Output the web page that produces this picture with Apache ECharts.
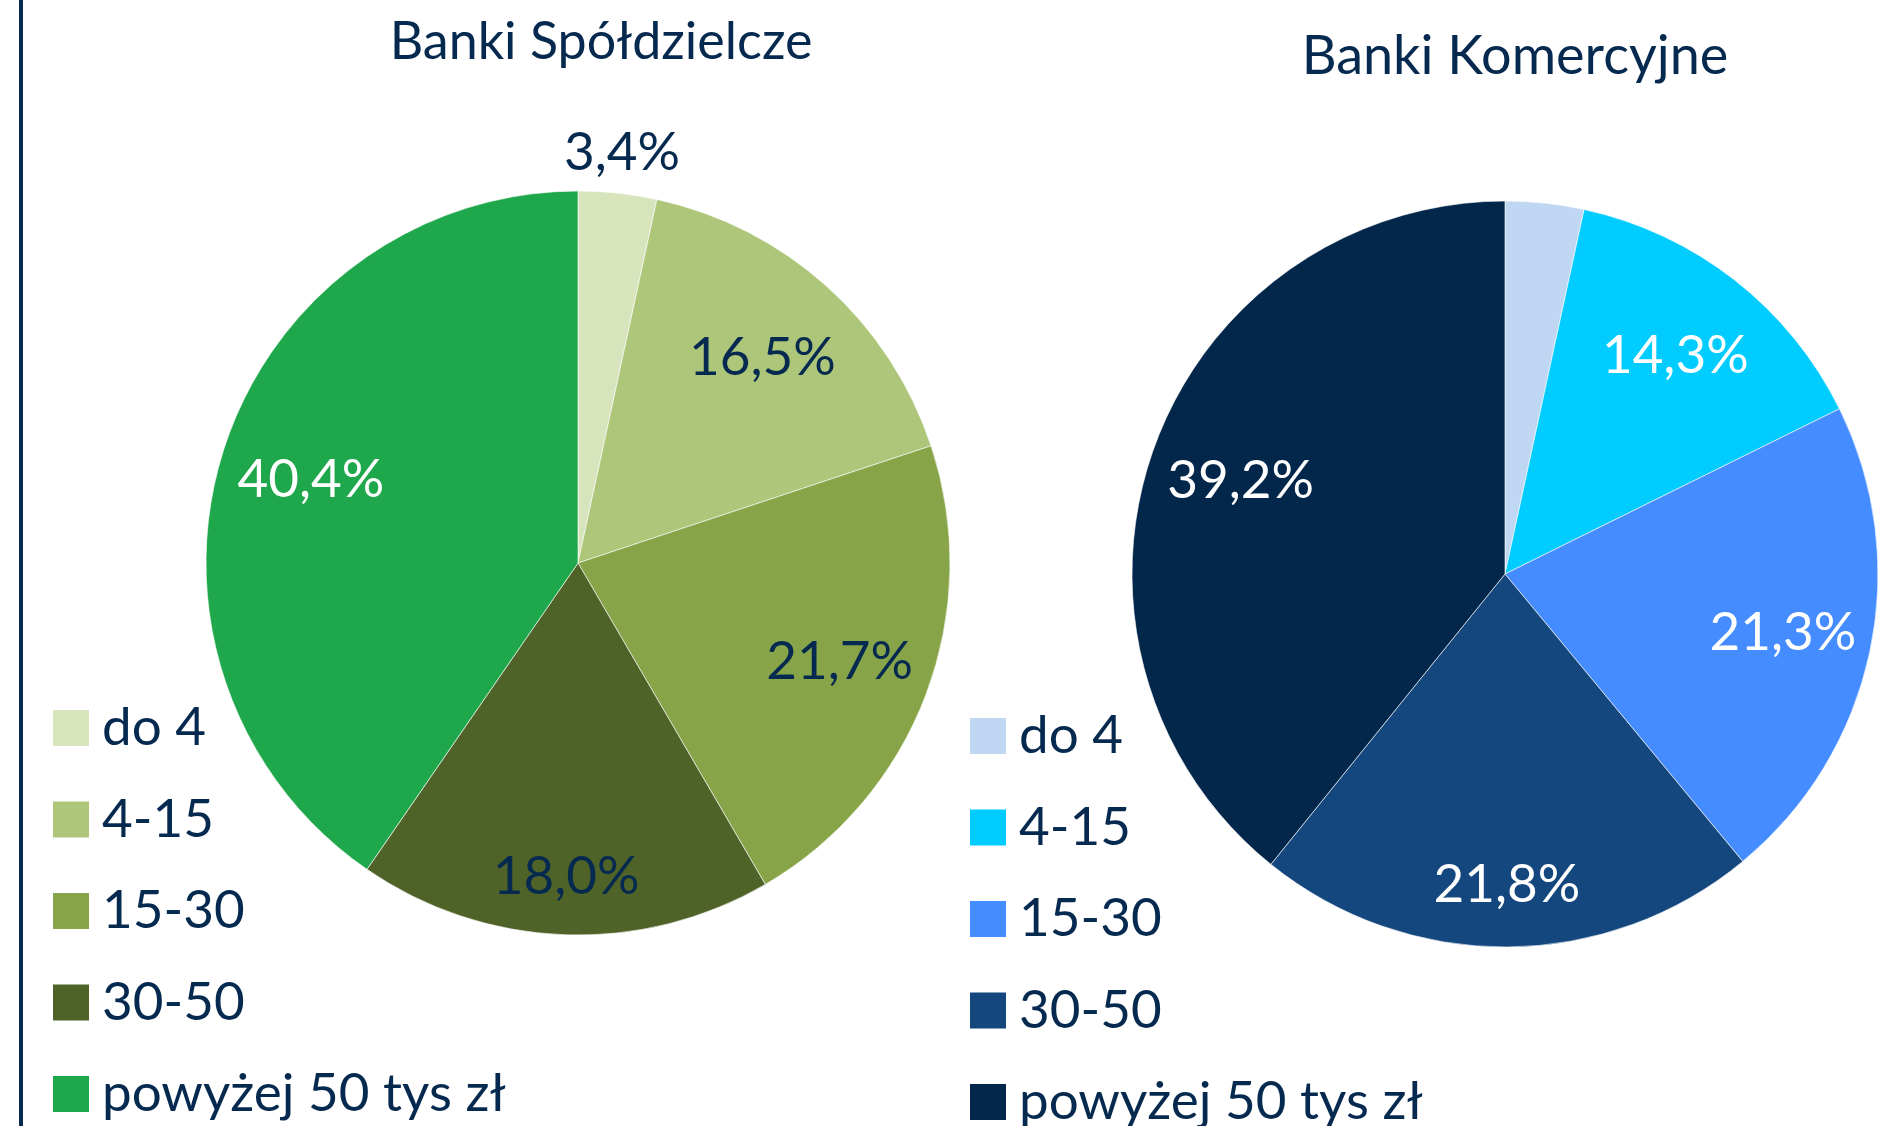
<!DOCTYPE html>
<html>
<head>
<meta charset="utf-8">
<script src="https://cdn.jsdelivr.net/npm/echarts@6/dist/echarts.min.js"></script>
<style>
  html, body { margin: 0; padding: 0; background: #fff; }
  #chart { width: 1897px; height: 1126px; }
</style>
</head>
<body>
<div id="chart"></div>
<script>
const categories = ['do 4', '4-15', '15-30', '30-50', 'powyżej 50 tys zł']
const spoldzielczeValues = [3.4, 16.5, 21.7, 18.0, 40.4]
const komercyjneValues = [3.4, 14.3, 21.3, 21.8, 39.2]
const titles = ['Banki Spółdzielcze', 'Banki Komercyjne']

const navy = '#062a4f'
const font = 'Lato, "Open Sans", sans-serif'
const greenColors = ['#d8e4bc', '#adc67a', '#87a548', '#4f6228', '#1fa74b']
const blueColors = ['#c0d7f4', '#00ccff', '#448cff', '#15477f', '#03274b']
const greenLabelColors = [navy, navy, navy, navy, '#fff']
const blueLabelColors = ['#fff', '#fff', '#fff', '#fff', '#fff']
// label distance from centre, as share of radius (like Excel "best fit")
const greenLabelRadius = [1.09, 0.73, 0.74, 0.83, 0.74]
const blueLabelRadius = [0.75, 0.73, 0.75, 0.82, 0.74]

const pies = [
  { center: [578, 563], radius: 372 },
  { center: [1505, 574], radius: 373 }
]

const fmt = (v) => v.toFixed(1).replace('.', ',') + '%'

const makeSeries = (idx, values, colors, labelColors, labelRadius, hidden) => {
  const { center, radius } = pies[idx]
  return {
    type: 'pie',
    name: titles[idx],
    center,
    radius,
    startAngle: 90,
    clockwise: true,
    silent: true,
    animation: false,
    itemStyle: { borderColor: '#fff', borderWidth: 0.6 },
    label: {
      position: 'inside',
      fontFamily: font,
      fontSize: 53,
      formatter: (p) => fmt(p.value)
    },
    labelLine: { show: false },
    emphasis: { disabled: true },
    // inside labels sit at r/2, push them out along the same ray
    labelLayout: (p) => {
      const r = p.labelRect
      const k = labelRadius[p.dataIndex] / 0.5
      const lx = r.x + r.width / 2 - center[0]
      const ly = r.y + r.height / 2 - center[1]
      return { x: center[0] + lx * k, y: center[1] + ly * k }
    },
    data: categories.map((name, i) => ({
      name,
      value: values[i],
      itemStyle: { color: colors[i] },
      label: { show: !hidden.includes(i), color: labelColors[i] }
    }))
  }
}

const makeLegend = (colors, left, top) => ({
  orient: 'vertical',
  left,
  top,
  height: 470,
  padding: 0,
  selectedMode: false,
  icon: 'rect',
  itemWidth: 36,
  itemHeight: 36,
  itemGap: 35.5,
  itemStyle: { borderWidth: 0 },
  textStyle: {
    fontFamily: font,
    fontSize: 53,
    color: navy,
    lineHeight: 56,
    padding: [0, 0, 0, 8]
  },
  data: categories.map((name, i) => ({ name, itemStyle: { color: colors[i] } }))
})

const chart = echarts.init(document.getElementById('chart'))
chart.setOption({
  backgroundColor: '#fff',
  animation: false,
  title: [
    {
      text: titles[0],
      left: 596,
      top: 11,
      textAlign: 'center',
      textStyle: { fontFamily: font, fontSize: 52, fontWeight: 'normal', color: navy }
    },
    {
      text: titles[1],
      left: 1510,
      top: 25,
      textAlign: 'center',
      textStyle: { fontFamily: font, fontSize: 54, fontWeight: 'normal', color: navy }
    }
  ],
  legend: [
    makeLegend(greenColors, 53, 700),
    makeLegend(blueColors, 970, 708)
  ],
  graphic: [
    {
      type: 'rect',
      shape: { x: 19, y: 0, width: 4, height: 1126 },
      style: { fill: navy },
      silent: true
    }
  ],
  series: [
    makeSeries(0, spoldzielczeValues, greenColors, greenLabelColors, greenLabelRadius, []),
    makeSeries(1, komercyjneValues, blueColors, blueLabelColors, blueLabelRadius, [0])
  ]
})
</script>
</body>
</html>
